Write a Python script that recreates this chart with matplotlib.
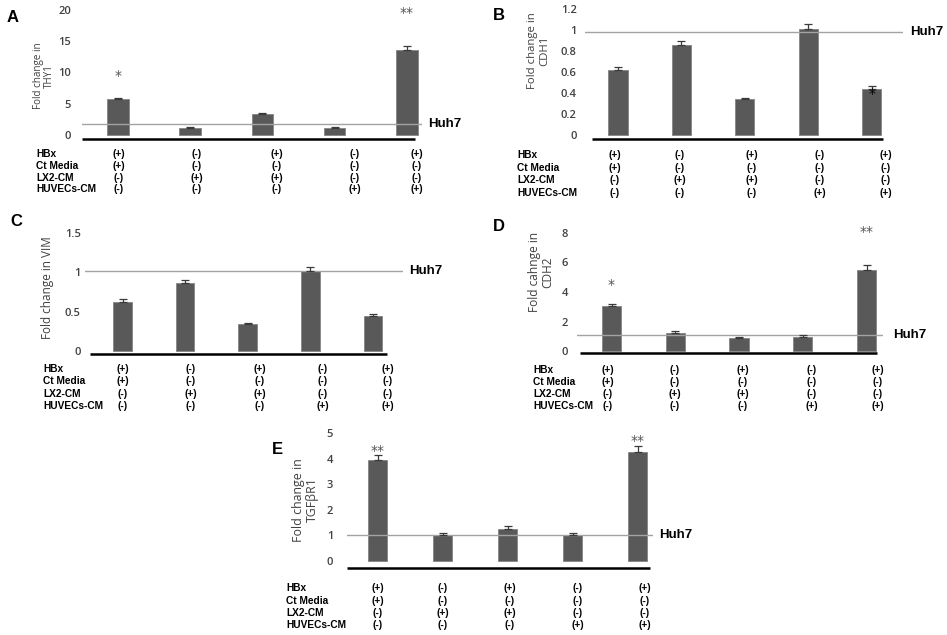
import matplotlib
matplotlib.use("Agg")
import matplotlib.pyplot as plt
import matplotlib.transforms as mtransforms

# ---------------- data ----------------
row_labels = ["HBx", "Ct Media", "LX2-CM", "HUVECs-CM"]
conditions = [
    ["(+)", "(-)", "(+)", "(-)", "(+)"],
    ["(+)", "(-)", "(-)", "(-)", "(-)"],
    ["(-)", "(+)", "(+)", "(-)", "(-)"],
    ["(-)", "(-)", "(-)", "(+)", "(+)"],
]

thy1 = [5.7, 1.1, 3.4, 1.1, 13.6]
thy1_err = [0.3, 0.2, 0.2, 0.2, 0.7]
thy1_ticks = [0, 5, 10, 15, 20]

cdh1 = [0.62, 0.86, 0.34, 1.01, 0.435]
cdh1_err = [0.03, 0.04, 0.015, 0.05, 0.035]
cdh1_ticks = [0, 0.2, 0.4, 0.6, 0.8, 1, 1.2]
cdh1_ticklabels = ["0", "0.2", "0.4", "0.6", "0.8", "1", "1.2"]

vim = [0.62, 0.86, 0.34, 1.02, 0.44]
vim_err = [0.04, 0.04, 0.02, 0.05, 0.03]
vim_ticks = [0, 0.5, 1, 1.5]
vim_ticklabels = ["0", "0.5", "1", "1.5"]

cdh2 = [3.05, 1.2, 0.86, 0.97, 5.5]
cdh2_err = [0.15, 0.13, 0.09, 0.09, 0.3]
cdh2_ticks = [0, 2, 4, 6, 8]

tgfbr1 = [3.95, 1.02, 1.25, 1.02, 4.27]
tgfbr1_err = [0.19, 0.08, 0.12, 0.06, 0.23]
tgfbr1_ticks = [0, 1, 2, 3, 4, 5]

huh7_levels = {"A": 1.8, "B": 0.98, "C": 1.02, "D": 1.08, "E": 1.0}

stars = {
    "A": [(0, "*", 9.5), (4, "**", 19.5)],
    "B": [(4, "*", 0.39)],
    "C": [],
    "D": [(0, "*", 4.5), (4, "**", 8.1)],
    "E": [(0, "**", 4.3), (4, "**", 4.7)],
}

panels = {
    "A": dict(vals=thy1, err=thy1_err, ticks=thy1_ticks, tlabels=None,
              ylabel="Fold change in\nTHY1"),
    "B": dict(vals=cdh1, err=cdh1_err, ticks=cdh1_ticks, tlabels=cdh1_ticklabels,
              ylabel="Fold change in\nCDH1"),
    "C": dict(vals=vim, err=vim_err, ticks=vim_ticks, tlabels=vim_ticklabels,
              ylabel="Fold change in VIM"),
    "D": dict(vals=cdh2, err=cdh2_err, ticks=cdh2_ticks, tlabels=None,
              ylabel="Fold cahnge in\nCDH2"),
    "E": dict(vals=tgfbr1, err=tgfbr1_err, ticks=tgfbr1_ticks, tlabels=None,
              ylabel="Fold change in\nTGF\u03b2R1"),
}

# ---------------- layout (pixels) ----------------
W, H = 947, 635
layout = {
    "A": dict(L=82, R=422, c0=118, s=72.2, y0=135, k=6.25, T=10, B=139, base=(82, 415),
              pad=8, letter=(7, 17), ylab=(44, 76), ylab_fs=7.1,
              tab_x=36, tab_y=154, tab_dy=11.8, cols=[119, 197, 277, 355, 417], huh_dx=6),
    "B": dict(L=585, R=903, c0=618, s=63.4, y0=135, k=105, T=9, B=139, base=(592, 883),
              pad=6, letter=(493, 16), ylab=(538.5, 51), ylab_fs=8.2,
              tab_x=517, tab_y=155, tab_dy=12.6, cols=[615, 680, 752, 820, 886], huh_dx=7),
    "C": dict(L=85, R=403, c0=122.5, s=62.6, y0=351, k=78.7, T=233, B=354, base=(90, 387),
              pad=3, letter=(10, 222), ylab=(47, 288), ylab_fs=8.5,
              tab_x=43, tab_y=369, tab_dy=12.3, cols=[123, 191, 260, 323, 388], huh_dx=6),
    "D": dict(L=577, R=883, c0=611.5, s=63.75, y0=351, k=14.75, T=233, B=353, base=(580, 877),
              pad=6.5, letter=(493, 226), ylab=(541, 272), ylab_fs=8.6,
              tab_x=533, tab_y=370, tab_dy=12.0, cols=[608, 675, 743, 812, 878], huh_dx=10),
    "E": dict(L=347, R=653, c0=377.5, s=65, y0=561, k=25.6, T=433, B=568, base=(347, 650),
              pad=10, letter=(272, 450), ylab=(305, 500), ylab_fs=8.9,
              tab_x=286, tab_y=588, tab_dy=12.5, cols=[378, 443, 510, 578, 645], huh_dx=6),
}

BAR_W = 0.30
BAR_C = "#595959"
TICK_C = "#404040"

fig = plt.figure(figsize=(W / 100, H / 100), dpi=100)
fig.patch.set_facecolor("white")


def fx(x):
    return x / W


def fy(y):
    return 1 - y / H


for key, p in panels.items():
    lo = layout[key]
    ax = fig.add_axes([fx(lo["L"]), fy(lo["B"]), (lo["R"] - lo["L"]) / W, (lo["B"] - lo["T"]) / H])
    n = len(p["vals"])
    xs = list(range(n))
    ax.bar(xs, p["vals"], width=BAR_W, color=BAR_C, edgecolor="#8a8a8a", linewidth=0.7, zorder=2)
    ax.errorbar(xs, p["vals"], yerr=[[0] * n, p["err"]], fmt="none", ecolor="#3a3a3a",
                elinewidth=0.9, capsize=3, capthick=0.9, zorder=3)
    ax.set_xlim((lo["L"] - lo["c0"]) / lo["s"], (lo["R"] - lo["c0"]) / lo["s"])
    ax.set_ylim((lo["y0"] - lo["B"]) / lo["k"], (lo["y0"] - lo["T"]) / lo["k"])
    for sp in ax.spines.values():
        sp.set_visible(False)
    ax.set_xticks([])
    ax.set_yticks(p["ticks"])
    if p["tlabels"] is not None:
        ax.set_yticklabels(p["tlabels"])
    ax.tick_params(axis="y", length=0, pad=lo["pad"], labelsize=8, labelcolor=TICK_C)
    for t in ax.get_yticklabels():
        t.set_fontfamily("Open Sans")
        t.set_fontweight("semibold")
    ax.patch.set_alpha(0)

    # Huh7 reference line (drawn over the bars)
    hv = huh7_levels[key]
    ax.axhline(hv, color="#a3a3a3", lw=1.0, zorder=2.5)
    tr = mtransforms.blended_transform_factory(ax.transAxes, ax.transData)
    ax.text(1 + lo["huh_dx"] / (lo["R"] - lo["L"]), hv, "Huh7", transform=tr,
            ha="left", va="center", fontsize=9.5, fontweight="bold",
            family="Liberation Sans", color="black", clip_on=False)

    # base line
    bl, br = lo["base"]
    ax.plot([(bl - lo["L"]) / (lo["R"] - lo["L"]), (br - lo["L"]) / (lo["R"] - lo["L"])],
            [0, 0], transform=ax.transAxes, color="black", lw=1.8, clip_on=False,
            solid_capstyle="butt")

    # significance stars
    for bi, s, yv in stars[key]:
        col = "black" if key == "B" else "#555555"
        ax.text(bi, yv, s, ha="center", va="center", fontsize=10, color=col,
                family="DejaVu Sans", clip_on=False, zorder=4)

    # y label
    fig.text(fx(lo["ylab"][0]), fy(lo["ylab"][1]), p["ylabel"], rotation=90,
             ha="center", va="center", multialignment="center",
             fontsize=lo["ylab_fs"], family="Open Sans", color="#404040", linespacing=1.1)

    # panel letter
    fig.text(fx(lo["letter"][0]), fy(lo["letter"][1]), key, ha="left", va="center",
             fontsize=12, fontweight="bold", family="Liberation Sans", color="black")

    # condition table
    for ri, rl in enumerate(row_labels):
        yy = lo["tab_y"] + ri * lo["tab_dy"]
        fig.text(fx(lo["tab_x"]), fy(yy), rl, ha="left", va="center", fontsize=7.3,
                 fontweight="bold", family="Liberation Sans", color="black")
        for ci, cx in enumerate(lo["cols"]):
            fig.text(fx(cx), fy(yy), conditions[ri][ci], ha="center", va="center",
                     fontsize=7.3, fontweight="bold", family="Liberation Sans", color="black")

fig.savefig("out.png", dpi=100, facecolor="white")
